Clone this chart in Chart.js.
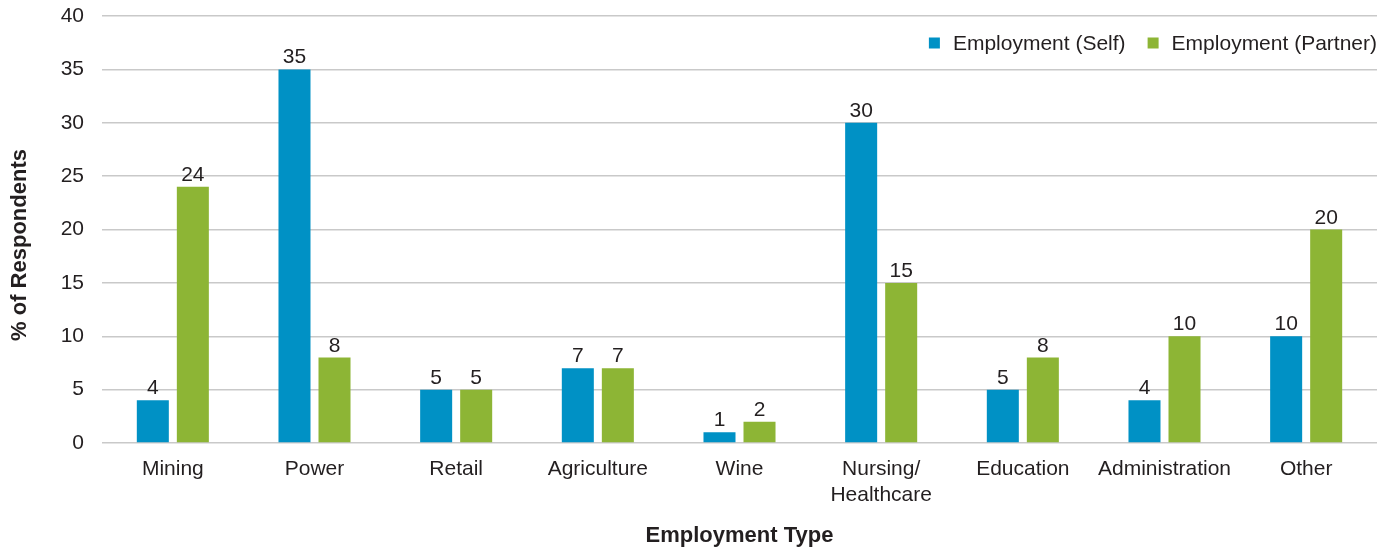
<!DOCTYPE html>
<html>
<head>
<meta charset="utf-8">
<script src="https://cdn.jsdelivr.net/npm/chart.js@4/dist/chart.umd.min.js"></script>
<style>
  html, body { margin: 0; padding: 0; background: #fff; }
  #wrap { width: 1391px; height: 550px; }
</style>
</head>
<body>
<div id="wrap"><canvas id="chart" width="1391" height="550"></canvas></div>
<script>
const categories = ['Mining', 'Power', 'Retail', 'Agriculture', 'Wine', ['Nursing/', 'Healthcare'], 'Education', 'Administration', 'Other'];
const selfValues = [4, 35, 5, 7, 1, 30, 5, 4, 10];
const partnerValues = [24, 8, 5, 7, 2, 15, 8, 10, 20];
const seriesNames = ['Employment (Self)', 'Employment (Partner)'];
const seriesColors = ['#0091c5', '#8db535'];
const yTitle = '% of Respondents';
const xTitle = 'Employment Type';

const FONT = "'Liberation Sans', Arial, sans-serif";
const textColor = '#231f20';

// value labels above each bar
const valueLabels = {
    id: 'valueLabels',
    afterDatasetsDraw(chart) {
        const c = chart.ctx;
        c.save();
        c.font = '21px ' + FONT;
        c.fillStyle = textColor;
        c.textAlign = 'center';
        c.textBaseline = 'alphabetic';
        chart.data.datasets.forEach((ds, i) => {
            chart.getDatasetMeta(i).data.forEach((bar, j) => {
                c.fillText(String(ds.data[j]), bar.x, bar.y - 6);
            });
        });
        c.restore();
    }
};

// legend inside the plot (top right) and the rotated y title
const extras = {
    id: 'extras',
    afterDraw(chart) {
        const c = chart.ctx;
        const area = chart.chartArea;
        c.save();
        c.font = '21px ' + FONT;
        c.textBaseline = 'middle';
        const box = 11, gap = 13, itemGap = 22;
        const y = 43;
        let widths = chart.data.datasets.map(ds => box + gap + c.measureText(ds.label).width);
        let total = widths.reduce((a, b) => a + b, 0) + itemGap * (widths.length - 1);
        let x = area.right - total;
        chart.data.datasets.forEach((ds, i) => {
            c.fillStyle = ds.backgroundColor;
            c.fillRect(x, y - box / 2, box, box);
            c.fillStyle = textColor;
            c.textAlign = 'left';
            c.fillText(ds.label, x + box + gap, y + 1);
            x += widths[i] + itemGap;
        });

        c.translate(20, 245);
        c.rotate(-Math.PI / 2);
        c.font = 'bold 22px ' + FONT;
        c.textAlign = 'center';
        c.fillText(yTitle, 0, 0);
        c.restore();
    }
};

new Chart(document.getElementById('chart'), {
    type: 'bar',
    data: {
        labels: categories,
        datasets: [
            { label: seriesNames[0], data: selfValues, backgroundColor: seriesColors[0] },
            { label: seriesNames[1], data: partnerValues, backgroundColor: seriesColors[1] }
        ]
    },
    options: {
        responsive: false,
        animation: false,
        layout: { padding: { top: 16, right: 14, left: 0, bottom: 0 } },
        datasets: { bar: { categoryPercentage: 0.565, barPercentage: 0.8 } },
        plugins: {
            legend: { display: false },
            tooltip: { enabled: false }
        },
        scales: {
            x: {
                grid: { display: false },
                border: { display: false },
                ticks: {
                    color: textColor,
                    font: { family: FONT, size: 21, lineHeight: 1.25 },
                    padding: 5,
                    maxRotation: 0,
                    autoSkip: false
                },
                title: {
                    display: true,
                    text: xTitle,
                    color: textColor,
                    font: { family: FONT, size: 22, weight: 'bold' },
                    padding: { top: 0, bottom: 1 }
                },
                afterFit(scale) { scale.height = 107; }
            },
            y: {
                min: 0,
                max: 40,
                // tick marks kept invisible so the label gap doesn't add top padding
                grid: { color: '#c9c9c9', lineWidth: 1.5, drawTicks: true, tickLength: 18, tickColor: 'rgba(0,0,0,0)' },
                border: { display: false },
                ticks: {
                    stepSize: 5,
                    color: textColor,
                    font: { family: FONT, size: 21 },
                    padding: 0
                },
                afterFit(scale) { scale.width = 102; }
            }
        }
    },
    plugins: [valueLabels, extras]
});
</script>
</body>
</html>
